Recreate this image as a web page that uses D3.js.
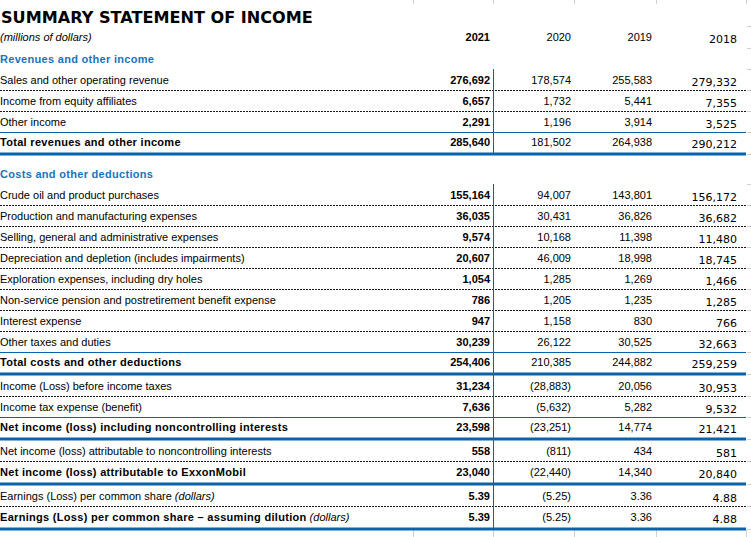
<!DOCTYPE html>
<html><head><meta charset="utf-8">
<script src="https://cdn.jsdelivr.net/npm/d3@7"></script>
<style>body{margin:0;background:#fff}svg{display:block}</style>
</head><body><svg id="c" width="751" height="537"></svg>
<script>
const title = "SUMMARY STATEMENT OF INCOME";
const subtitle = "(millions of dollars)";
const years = ["2021", "2020", "2019", "2018"];
const labels = [
  "Revenues and other income",
  "Sales and other operating revenue",
  "Income from equity affiliates",
  "Other income",
  "Total revenues and other income",
  "Costs and other deductions",
  "Crude oil and product purchases",
  "Production and manufacturing expenses",
  "Selling, general and administrative expenses",
  "Depreciation and depletion (includes impairments)",
  "Exploration expenses, including dry holes",
  "Non-service pension and postretirement benefit expense",
  "Interest expense",
  "Other taxes and duties",
  "Total costs and other deductions",
  "Income (Loss) before income taxes",
  "Income tax expense (benefit)",
  "Net income (loss) including noncontrolling interests",
  "Net income (loss) attributable to noncontrolling interests",
  "Net income (loss) attributable to ExxonMobil",
  "Earnings (Loss) per common share",
  "Earnings (Loss) per common share \u2013 assuming dilution"
];
const labelNotes = ["","","","","","","","","","","","","","","","","","","","","(dollars)","(dollars)"];
const rowKinds = ["section","item","item","item","total","section","item","item","item","item","item","item","item","item","total","item","item","total","item","total","item","total"];
const rowRules = ["none","dotted","dotted","thin","thick","none","dotted","dotted","dotted","dotted","dotted","dotted","dotted","thin","thick","dotted","thin","thick","dotted","thick","dotted","thick"];
const v2021 = [null,276692,6657,2291,285640,null,155164,36035,9574,20607,1054,786,947,30239,254406,31234,7636,23598,558,23040,5.39,5.39];
const v2020 = [null,178574,1732,1196,181502,null,94007,30431,10168,46009,1285,1205,1158,26122,210385,-28883,-5632,-23251,-811,-22440,-5.25,-5.25];
const v2019 = [null,255583,5441,3914,264938,null,143801,36826,11398,18998,1269,1235,830,30525,244882,20056,5282,14774,434,14340,3.36,3.36];
const v2018 = [null,279332,7355,3525,290212,null,156172,36682,11480,18745,1466,1285,766,32663,259259,30953,9532,21421,581,20840,4.88,4.88];
const decimals = [0,0,0,0,0,0,0,0,0,0,0,0,0,0,0,0,0,0,0,0,2,2];

const series = [v2021, v2020, v2019, v2018];

// ---- styling / layout ----
const W = 751, H = 537;
const BLUE_LINE = "#0a63aa", BLUE_TEXT = "#1a73bb", GRID = "#d0d0d0";
const LABEL_FONT = "'Liberation Sans', Arial, sans-serif";
const NUM2018_FONT = "'DejaVu Sans', Verdana, sans-serif";
const lineRight = 746;

const svg = d3.select("#c");

// row baselines computed from rule types
const base = [];
let y = 63;
labels.forEach((l, i) => {
  if (i > 0) {
    const pr = rowRules[i - 1];
    const prevRuleY = base[i - 1] + (pr === "thick" ? 8 : 6);
    if (pr === "none") y = base[i - 1] + 21;
    else if (pr === "thick") y = prevRuleY + (rowKinds[i] === "section" ? 24 : 16);
    else if (pr === "thin") y = prevRuleY + 14;
    else y = prevRuleY + 15;
  }
  base.push(y);
});
const ruleY = rowRules.map((r, i) => base[i] + (r === "thick" ? 8 : 6));

const x = d3.scaleBand().domain(years).range([409, 733]).paddingInner(0).paddingOuter(0);
const colShift = {"2021": 0, "2020": 0, "2019": 0, "2018": 4};
const colDy = {"2021": 0, "2020": 0, "2019": 0, "2018": 2};
const colWeight = {"2021": "bold", "2020": "normal", "2019": "normal", "2018": "normal"};
const colFont = {"2021": LABEL_FONT, "2020": LABEL_FONT, "2019": LABEL_FONT, "2018": NUM2018_FONT};
const colX = yr => x(yr) + x.bandwidth() + colShift[yr];

// spreadsheet gridline stubs
const gridX = [413, 493, 574, 656, 746];
svg.append("g").selectAll("line").data(gridX).join("line")
  .attr("x1", d => d + 0.5).attr("x2", d => d + 0.5).attr("y1", 0).attr("y2", 4)
  .attr("stroke", GRID);
svg.append("g").selectAll("line").data(gridX).join("line")
  .attr("x1", d => d + 0.5).attr("x2", d => d + 0.5).attr("y1", 530).attr("y2", H)
  .attr("stroke", GRID);
const stubY = [26, 48, 69].concat(ruleY.filter((d, i) => rowRules[i] !== "none")).concat([184]);
svg.append("g").selectAll("line").data(stubY).join("line")
  .attr("x1", lineRight + 1).attr("x2", W).attr("y1", d => Math.round(d) + 0.5).attr("y2", d => Math.round(d) + 0.5)
  .attr("stroke", GRID);

// title
svg.append("text").attr("x", 1).attr("y", 23).text(title)
  .attr("font-family", "'DejaVu Sans', Verdana, sans-serif").attr("font-weight", "bold")
  .attr("font-size", 16.1).attr("fill", "#000");
svg.append("text").attr("x", 0).attr("y", 41).text(subtitle)
  .attr("font-family", LABEL_FONT).attr("font-style", "italic").attr("font-size", 11).attr("fill", "#000");

// year headers
svg.append("g").selectAll("text").data(years).join("text")
  .attr("x", d => colX(d)).attr("y", d => 41 + colDy[d])
  .attr("text-anchor", "end").attr("font-family", d => colFont[d])
  .attr("font-weight", d => colWeight[d]).attr("font-size", 11).attr("fill", "#000")
  .text(d => d);

// rules
const rules = svg.append("g");
rowRules.forEach((r, i) => {
  if (r === "none") return;
  const yy = r === "thick" ? Math.round(ruleY[i]) : Math.round(ruleY[i]) + 0.5;
  const ln = rules.append("line").attr("x1", 0).attr("x2", lineRight).attr("y1", yy).attr("y2", yy);
  if (r === "dotted") ln.attr("stroke", "#1a1a1a").attr("stroke-width", 1).attr("stroke-dasharray", "2,1");
  else if (r === "thin") ln.attr("stroke", BLUE_LINE).attr("stroke-width", 1);
  else ln.attr("stroke", BLUE_LINE).attr("stroke-width", 3);
});

// vertical divider after 2021 column (data row blocks)
const blocks = [];
let start = null;
labels.forEach((l, i) => {
  if (rowKinds[i] === "section") {
    if (start !== null) blocks.push([start, ruleY[i - 1]]);
    start = null;
  } else if (start === null) start = base[i] - 15;
});
blocks.push([start, ruleY[labels.length - 1]]);
svg.append("g").selectAll("line").data(blocks).join("line")
  .attr("x1", 493.5).attr("x2", 493.5)
  .attr("y1", d => d[0]).attr("y2", d => d[1])
  .attr("stroke", BLUE_LINE).attr("stroke-width", 1);

// labels
const lab = svg.append("g").selectAll("text").data(labels).join("text")
  .attr("x", 0).attr("y", (d, i) => base[i])
  .attr("font-family", LABEL_FONT).attr("font-size", 11)
  .attr("font-weight", (d, i) => rowKinds[i] === "item" ? "normal" : "bold")
  .attr("letter-spacing", (d, i) => rowKinds[i] === "item" ? 0 : 0.3)
  .attr("fill", (d, i) => rowKinds[i] === "section" ? BLUE_TEXT : "#000");
lab.append("tspan").text(d => d);
lab.append("tspan").text((d, i) => labelNotes[i] ? " " + labelNotes[i] : "")
  .attr("font-style", "italic").attr("font-weight", "normal").attr("letter-spacing", 0);

// numbers
const fmt0 = d3.format(",.0f"), fmt2 = d3.format(",.2f");
const fmt = (v, i) => {
  if (v === null) return "";
  const s = (decimals[i] === 2 ? fmt2 : fmt0)(Math.abs(v));
  return v < 0 ? "(" + s + ")" : s;
};
years.forEach((yr, c) => {
  svg.append("g").selectAll("text").data(series[c]).join("text")
    .attr("x", colX(yr)).attr("y", (d, i) => base[i] + colDy[yr])
    .attr("text-anchor", "end").attr("font-family", colFont[yr])
    .attr("font-weight", colWeight[yr]).attr("font-size", 11).attr("fill", "#000")
    .text((d, i) => fmt(d, i));
});
</script></body></html>
